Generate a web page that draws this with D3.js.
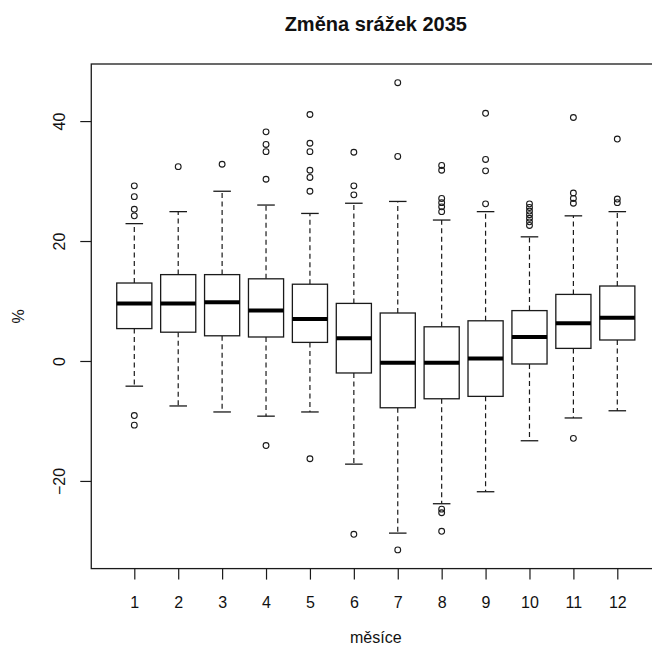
<!DOCTYPE html>
<html>
<head>
<meta charset="utf-8">
<script src="https://cdn.jsdelivr.net/npm/d3@7"></script>
<style>
  html, body { margin: 0; padding: 0; background: #fff; }
  svg { display: block; }
  text { font-family: "Liberation Sans", Arial, sans-serif; fill: #111; }
</style>
</head>
<body>
<svg id="chart" width="652" height="653"></svg>
<script>
// Monthly precipitation change (%) for 2035 — box-plot summaries per month
const months   = [1, 2, 3, 4, 5, 6, 7, 8, 9, 10, 11, 12];
const lowWhisk = [-4.2, -7.5, -8.5, -9.2, -8.5, -17.2, -28.7, -23.8, -21.8, -13.3, -9.5, -8.3];
const q1       = [5.4, 4.8, 4.2, 4.0, 3.1, -2.0, -7.8, -6.3, -5.9, -0.5, 2.1, 3.5];
const medians  = [9.6, 9.6, 9.8, 8.4, 7.0, 3.8, -0.3, -0.3, 0.4, 4.0, 6.3, 7.2];
const q3       = [13.0, 14.4, 14.4, 13.7, 12.8, 9.6, 8.0, 5.7, 6.7, 8.4, 11.1, 12.5];
const highWhisk= [22.9, 24.9, 28.3, 26.0, 24.6, 26.3, 26.6, 23.5, 24.9, 20.7, 24.2, 24.9];
const outliers = [
  [29.2, 27.4, 25.3, 24.2, -9.1, -10.7],
  [32.4],
  [32.8],
  [38.2, 36.1, 34.9, 30.3, -14.1],
  [41.1, 36.3, 34.9, 31.8, 30.6, 28.3, -16.3],
  [34.8, 29.2, 27.7, -28.9],
  [46.4, 34.1, -31.5],
  [32.6, 31.8, 27.1, 26.4, 25.7, 24.9, -24.7, -25.3, -28.4],
  [41.3, 33.6, 31.7, 26.2],
  [26.2, 25.6, 25.0, 24.4, 23.8, 23.2, 22.6],
  [40.6, 28.0, 27.1, 26.3, -12.9],
  [37.0, 27.0, 26.4]
];
const yTicks = [-20, 0, 20, 40];
const title = "Změna srážek 2035";
const xTitle = "měsíce";
const yTitle = "%";

const svg = d3.select("#chart");
const ink = "#1a1a1a";

// x: month index; the frame spans the category range padded by 4%
const xPos = d3.scaleLinear().domain([1, 12]).range([134.3, 617.3]);
const xLo = 0.5 - 0.04 * 12, xHi = 12.5 + 0.04 * 12;

// y: data range padded by 4% on each side
const allVals = lowWhisk.concat(highWhisk, outliers.flat());
const yMin = d3.min(allVals), yMax = d3.max(allVals);
const pad = (yMax - yMin) * 0.04;
const y = d3.scaleLinear().domain([yMin - pad, yMax + pad]).range([568.6, 64]);

const frameLeft = xPos(xLo), frameRight = xPos(xHi);
const frameTop = y(yMax + pad), frameBottom = y(yMin - pad);

const unit = xPos(2) - xPos(1);
const boxW = unit * 0.8;
const capW = boxW * 0.5;

const g = svg.append("g");

// whiskers (dashed) and caps
months.forEach((m, i) => {
  const cx = xPos(m);
  g.append("line")
    .attr("x1", cx).attr("x2", cx)
    .attr("y1", y(q3[i])).attr("y2", y(highWhisk[i]))
    .attr("stroke", ink).attr("stroke-width", 1.2)
    .attr("stroke-dasharray", "5,3.5");
  g.append("line")
    .attr("x1", cx).attr("x2", cx)
    .attr("y1", y(q1[i])).attr("y2", y(lowWhisk[i]))
    .attr("stroke", ink).attr("stroke-width", 1.2)
    .attr("stroke-dasharray", "5,3.5");
  [highWhisk[i], lowWhisk[i]].forEach(v => {
    g.append("line")
      .attr("x1", cx - capW / 2).attr("x2", cx + capW / 2)
      .attr("y1", y(v)).attr("y2", y(v))
      .attr("stroke", ink).attr("stroke-width", 1.3);
  });
  // box
  g.append("rect")
    .attr("x", cx - boxW / 2).attr("width", boxW)
    .attr("y", y(q3[i])).attr("height", y(q1[i]) - y(q3[i]))
    .attr("fill", "#fff").attr("stroke", ink).attr("stroke-width", 1.3);
  // median
  g.append("line")
    .attr("x1", cx - boxW / 2).attr("x2", cx + boxW / 2)
    .attr("y1", y(medians[i])).attr("y2", y(medians[i]))
    .attr("stroke", "#000").attr("stroke-width", 4);
  // outliers
  outliers[i].forEach(v => {
    g.append("circle")
      .attr("cx", cx).attr("cy", y(v)).attr("r", 2.9)
      .attr("fill", "none").attr("stroke", ink).attr("stroke-width", 1.1);
  });
});

// plot frame
svg.append("rect")
  .attr("x", frameLeft).attr("y", frameTop)
  .attr("width", frameRight - frameLeft).attr("height", frameBottom - frameTop)
  .attr("fill", "none").attr("stroke", ink).attr("stroke-width", 1.3);

// x axis
const xAxis = d3.axisBottom(xPos).tickValues(months).tickFormat(d3.format("d"))
  .tickSizeInner(11).tickSizeOuter(0).tickPadding(17);
const xg = svg.append("g").attr("transform", `translate(0,${frameBottom})`).call(xAxis);
xg.select(".domain").remove();
xg.selectAll("line").attr("stroke", ink).attr("stroke-width", 1.2);
xg.selectAll("text").attr("font-size", 16).attr("fill", "#111")
  .attr("font-family", "'Liberation Sans', Arial, sans-serif");

// y axis (labels rotated, as in base R graphics)
const yAxis = d3.axisLeft(y).tickValues(yTicks).tickFormat(d3.format("d"))
  .tickSizeInner(11).tickSizeOuter(0);
const yg = svg.append("g").attr("transform", `translate(${frameLeft},0)`).call(yAxis);
yg.select(".domain").remove();
yg.selectAll("line").attr("stroke", ink).attr("stroke-width", 1.2);
yg.selectAll("text")
  .attr("font-size", 16).attr("fill", "#111")
  .attr("font-family", "'Liberation Sans', Arial, sans-serif")
  .attr("x", null).attr("dy", null)
  .attr("text-anchor", "middle")
  .attr("transform", "translate(-26,0) rotate(-90)");

// titles
svg.append("text")
  .attr("x", (frameLeft + frameRight) / 2).attr("y", 31)
  .attr("text-anchor", "middle")
  .attr("font-size", 20).attr("font-weight", "bold")
  .text(title);

svg.append("text")
  .attr("x", (frameLeft + frameRight) / 2).attr("y", 643)
  .attr("text-anchor", "middle")
  .attr("font-size", 16)
  .text(xTitle);

svg.append("text")
  .attr("transform", `translate(24,${(frameTop + frameBottom) / 2}) rotate(-90)`)
  .attr("text-anchor", "middle")
  .attr("font-size", 16)
  .text(yTitle);
</script>
</body>
</html>
